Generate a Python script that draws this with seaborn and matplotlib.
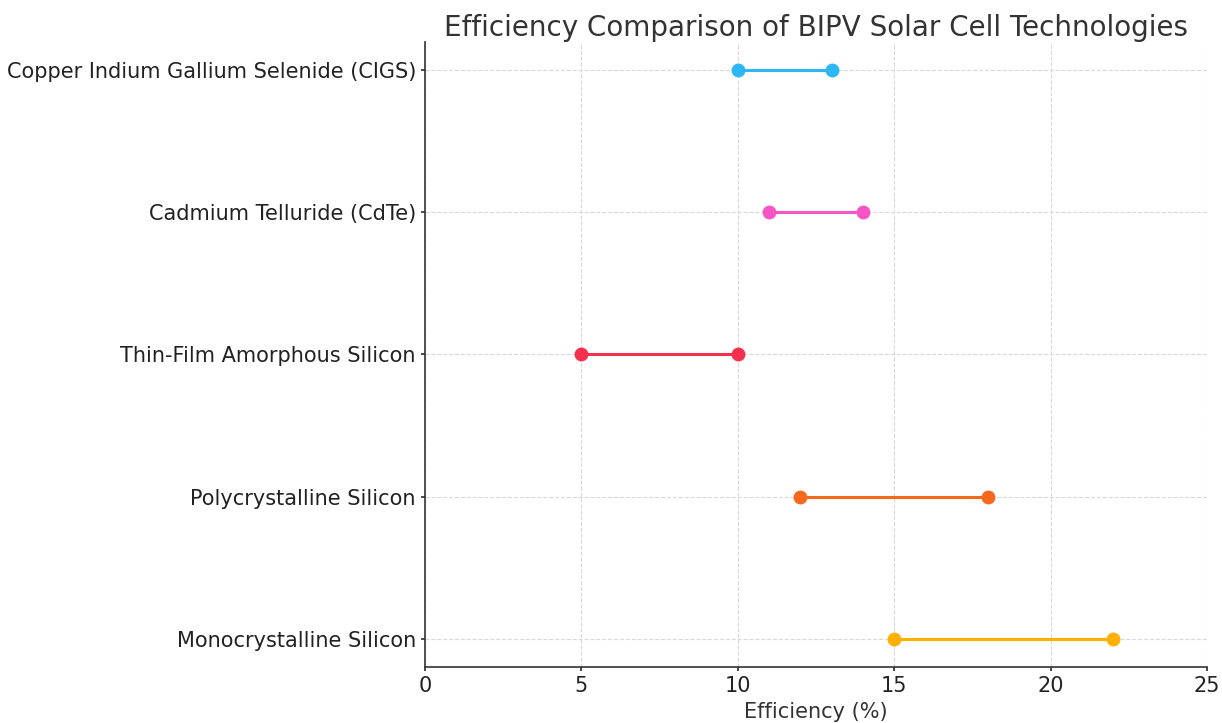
import matplotlib
matplotlib.use("Agg")
import matplotlib.pyplot as plt
import seaborn as sns
import pandas as pd

technologies = ["Monocrystalline Silicon", "Polycrystalline Silicon",
                "Thin-Film Amorphous Silicon", "Cadmium Telluride (CdTe)",
                "Copper Indium Gallium Selenide (CIGS)"]
min_eff = [15, 12, 5, 11, 10]
max_eff = [22, 18, 10, 14, 13]
colors = ["#FFB000", "#F4691E", "#F5304F", "#F754C6", "#2CB7F5"]

rows = []
for i, t in enumerate(technologies):
    rows.append({"Technology": t, "pos": i, "Efficiency": min_eff[i]})
    rows.append({"Technology": t, "pos": i, "Efficiency": max_eff[i]})
df = pd.DataFrame(rows)

sns.set_theme(style="ticks")
plt.rcParams['font.family'] = ['DejaVu Sans']

fig = plt.figure(figsize=(12.22, 7.23), dpi=100)
ax = fig.add_axes([0.3478, 0.0775, 0.6399, 0.8644])

sns.lineplot(data=df, x="Efficiency", y="pos", hue="Technology",
             palette=dict(zip(technologies, colors)), hue_order=technologies,
             marker="o", markersize=10, markeredgewidth=0, linewidth=2.2,
             estimator=None, sort=False, legend=False, ax=ax)

ax.set_xlim(0, 25)
ax.set_ylim(-0.2, 4.2)
ax.set_yticks(range(len(technologies)))
ax.set_yticklabels(technologies)
ax.set_xticks([0, 5, 10, 15, 20, 25])
ax.grid(True, linestyle="--", color="#d9d9d9", linewidth=0.8)
ax.set_axisbelow(True)
for s in ["top", "right"]:
    ax.spines[s].set_visible(False)
for s in ["left", "bottom"]:
    ax.spines[s].set_color("#333333")
    ax.spines[s].set_linewidth(1.2)
ax.tick_params(axis="both", labelsize=15, colors="#333333", labelcolor="#222222", length=3)
ax.set_xlabel("Efficiency (%)", fontsize=15, color="#333333", labelpad=4)
ax.set_ylabel("")
ax.set_title("Efficiency Comparison of BIPV Solar Cell Technologies", fontsize=20, color="#333333", pad=4)

fig.savefig("out.png", dpi=100)
